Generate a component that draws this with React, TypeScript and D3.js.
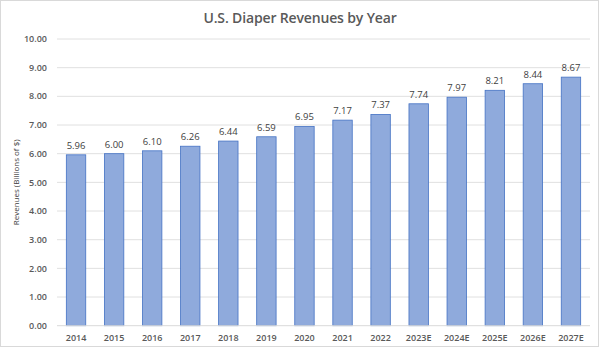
import React from "react";
import * as d3 from "d3";

const categories = ["2014","2015","2016","2017","2018","2019","2020","2021","2022","2023E","2024E","2025E","2026E","2027E"];
const revenues = [5.96,6.00,6.10,6.26,6.44,6.59,6.95,7.17,7.37,7.74,7.97,8.21,8.44,8.67];
const yTicks = [0,1,2,3,4,5,6,7,8,9,10];
const title = "U.S. Diaper Revenues by Year";
const yTitle = "Revenues (Billions of $)";

export default function App() {
  const W = 600, H = 350;
  const left = 57, right = 590, top = 39, bottom = 325.7;
  const x = d3.scaleBand<string>().domain(categories).range([left, right]).paddingInner(0.49).paddingOuter(0.245);
  const y = d3.scaleLinear().domain([0, 10]).range([bottom, top]);
  const font = "'Open Sans', 'Liberation Sans', sans-serif";
  return (
    <svg width={W} height={H} style={{ position: "absolute", left: 0, top: 0, display: "block" }} fontFamily={font}>
      <rect x={0.5} y={0.5} width={W - 2} height={H - 4} fill="#fff" stroke="#d9d9d9" />
      <text x={300} y={22.5} textAnchor="middle" fontSize={14} fontWeight={600} letterSpacing={-0.15} fill="#595959">{title}</text>
      {yTicks.map(t => (
        <g key={t}>
          {t > 0 && <line x1={left} x2={right} y1={y(t)} y2={y(t)} stroke="#e0e0e0" strokeWidth={1} />}
          <text x={47} y={y(t)} dy="0.35em" textAnchor="end" fontSize={9} fontWeight={600} fill="#595959">{t.toFixed(2)}</text>
        </g>
      ))}
      {categories.map((c, i) => (
        <g key={c}>
          <rect x={x(c)} y={y(revenues[i])} width={x.bandwidth()} height={bottom - y(revenues[i])} fill="#8faadc" stroke="#4472c4" strokeWidth={0.8} />
          <text x={(x(c) as number) + x.bandwidth() / 2} y={y(revenues[i]) - 6} textAnchor="middle" fontSize={9.5} fill="#404040">{revenues[i].toFixed(2)}</text>
          <text x={(x(c) as number) + x.bandwidth() / 2} y={340.5} textAnchor="middle" fontSize={9} fontWeight={600} fill="#595959">{c}</text>
        </g>
      ))}
      <line x1={left} x2={right} y1={bottom} y2={bottom} stroke="#d9d9d9" strokeWidth={1} />
      <text transform={`translate(16,${(top + bottom) / 2}) rotate(-90)`} textAnchor="middle" dy="0.35em" fontSize={8} fill="#404040">{yTitle}</text>
    </svg>
  );
}
